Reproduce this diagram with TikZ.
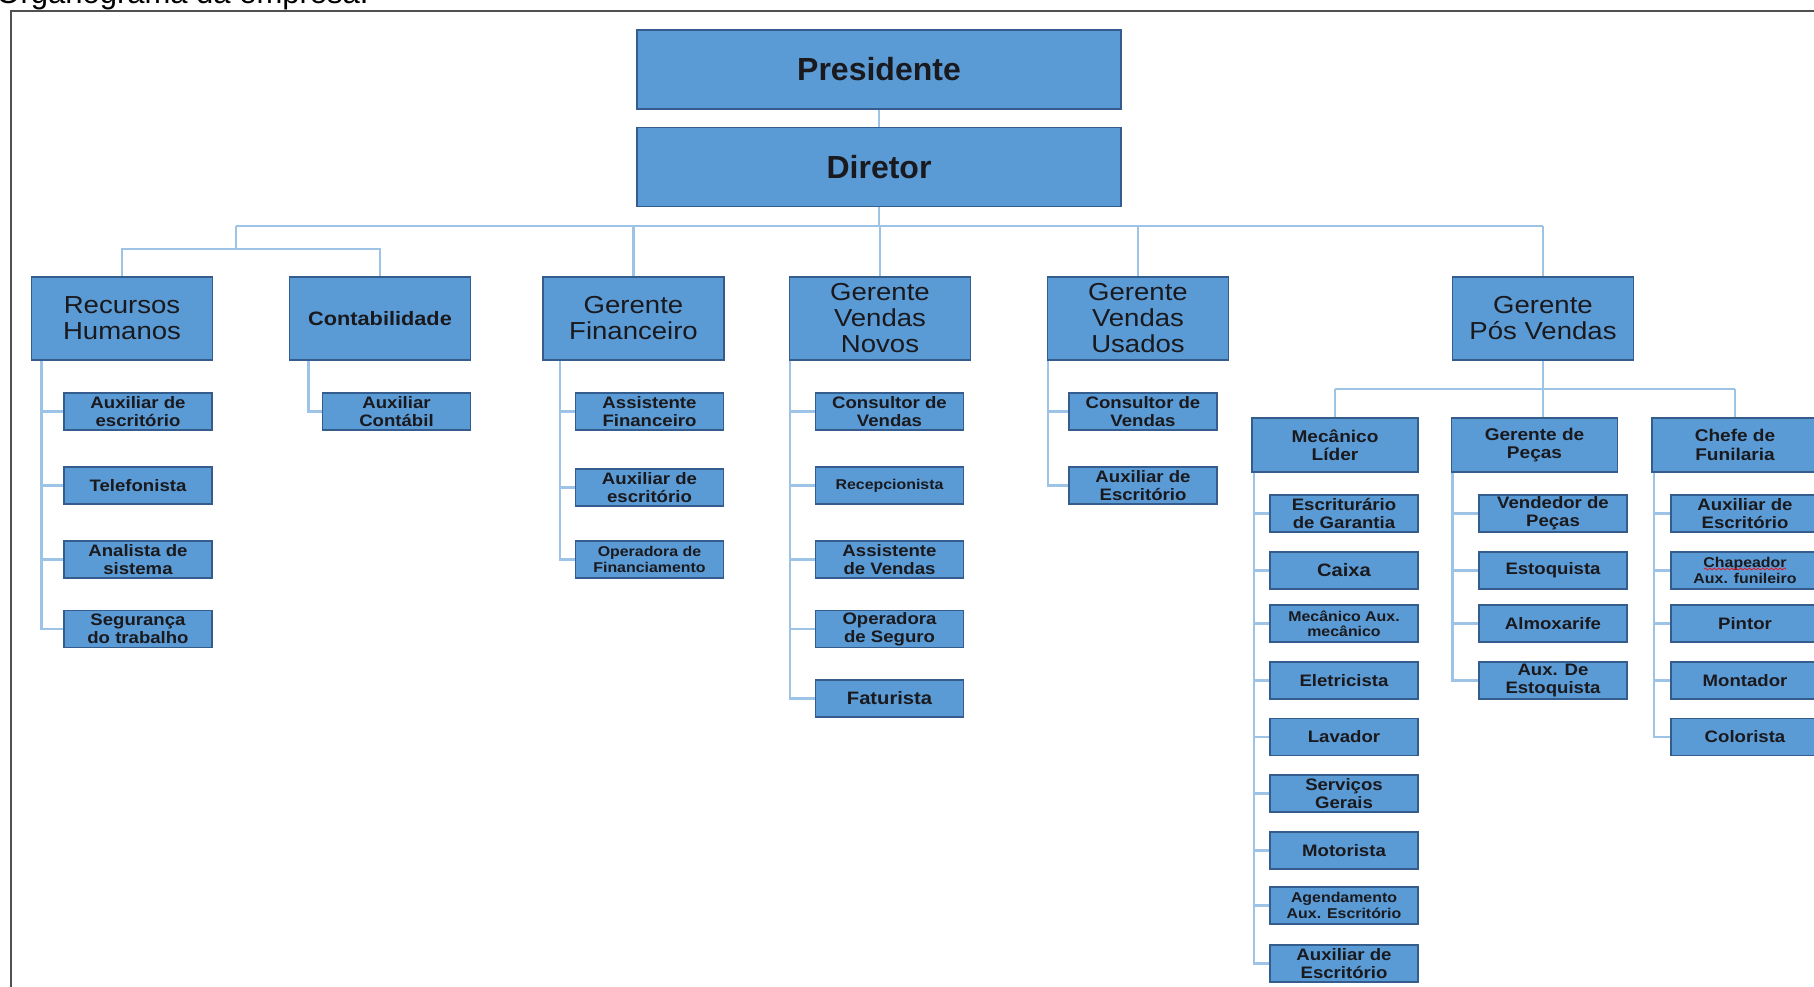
\documentclass[tikz,border=0pt]{standalone}
\usepackage{fontspec}
\setmainfont{Liberation Sans}
\newfontfamily\wf[FakeStretch=1.12]{Liberation Sans}
\usetikzlibrary{calc,decorations.pathmorphing}
\definecolor{boxfill}{RGB}{91,155,213}
\definecolor{boxline}{RGB}{52,92,140}
\definecolor{conncol}{RGB}{157,195,230}
\definecolor{framecol}{RGB}{80,80,80}
\definecolor{txt}{RGB}{25,25,30}
\begin{document}
\begin{tikzpicture}[x=0.5pt,y=-0.5pt,
  box/.style={draw=boxline,fill=boxfill,line width=0.9pt,inner sep=0pt,align=center,text=txt},
  topbox/.style={box,minimum width=242pt,minimum height=39.5pt,font=\fontsize{16}{18}\selectfont\bfseries},
  mgr/.style={box,minimum width=90.5pt,minimum height=41.5pt,font=\wf\fontsize{12.3}{13}\selectfont},
  mgrb/.style={box,minimum width=90.5pt,minimum height=41.5pt,font=\wf\fontsize{9.7}{11}\selectfont\bfseries},
  sub/.style={box,minimum width=83pt,minimum height=27pt,font=\wf\fontsize{8.5}{9.2}\selectfont\bfseries},
  kid/.style={box,minimum width=74pt,minimum height=18.5pt,font=\wf\fontsize{8.3}{9}\selectfont\bfseries},
  kids/.style={kid,font=\wf\fontsize{7.1}{7.6}\selectfont\bfseries},
  kidl/.style={kid,font=\wf\fontsize{9}{10}\selectfont\bfseries},
  conn/.style={draw=conncol,line width=1.2pt}]
\useasboundingbox (0,0) rectangle (1814,986);
\node[anchor=base west,inner sep=0pt,font=\fontsize{15.5}{18}\selectfont] (title) at (-4,3) {Organograma da empresa.};
\draw[framecol,line width=1pt] (11,11) rectangle (1840,1010);

% top
\node[topbox] (pres) at (879,69.5) {Presidente};
\node[topbox] (dir) at (879,167) {Diretor};

% level 2
\node[mgr] (rh) at (122,318.5) {Recursos\\Humanos};
\node[mgrb] (cont) at (380,318.5) {Contabilidade};
\node[mgr] (gf) at (633.5,318.5) {Gerente\\Financeiro};
\node[mgr] (gvn) at (880,318.5) {Gerente\\Vendas\\Novos};
\node[mgr] (gvu) at (1138,318.5) {Gerente\\Vendas\\Usados};
\node[mgr] (gpv) at (1543,318.5) {Gerente\\Pós Vendas};

% RH children
\node[kid] (rh1) at (138,411.5) {Auxiliar de\\escritório};
\node[kid] (rh2) at (138,485.5) {Telefonista};
\node[kid] (rh3) at (138,559.5) {Analista de\\sistema};
\node[kid] (rh4) at (138,629) {Segurança\\do trabalho};

% Contabilidade child
\node[kid] (ct1) at (396.5,411.5) {Auxiliar\\Contábil};

% GF children
\node[kid] (gf1) at (649.5,411.5) {Assistente\\Financeiro};
\node[kid] (gf2) at (649.5,487.5) {Auxiliar de\\escritório};
\node[kids] (gf3) at (649.5,559.5) {Operadora de\\Financiamento};

% GVN children
\node[kid] (gn1) at (889.5,411.5) {Consultor de\\Vendas};
\node[kids] (gn2) at (889.5,485.5) {Recepcionista};
\node[kid] (gn3) at (889.5,559.5) {Assistente\\de Vendas};
\node[kid] (gn4) at (889.5,629) {Operadora\\de Seguro};
\node[kidl] (gn5) at (889.5,698.5) {Faturista};

% GVU children
\node[kid] (gu1) at (1143,411.5) {Consultor de\\Vendas};
\node[kid] (gu2) at (1143,485.5) {Auxiliar de\\Escritório};

% level 3
\node[sub] (mec) at (1335,445) {Mecânico\\Líder};
\node[sub] (gp) at (1534.5,445) {Gerente de\\Peças};
\node[sub] (chefe) at (1735,445) {Chefe de\\Funilaria};

% Mecanico children
\node[kid] (m1) at (1344,513.5) {Escriturário\\de Garantia};
\node[kidl] (m2) at (1344,570.5) {Caixa};
\node[kids] (m3) at (1344,623.5) {Mecânico Aux.\\mecânico};
\node[kid] (m4) at (1344,680.5) {Eletricista};
\node[kid] (m5) at (1344,737) {Lavador};
\node[kid] (m6) at (1344,793.5) {Serviços\\Gerais};
\node[kid] (m7) at (1344,850.5) {Motorista};
\node[kids] (m8) at (1344,905.5) {Agendamento\\Aux. Escritório};
\node[kid] (m9) at (1344,963.5) {Auxiliar de\\Escritório};

% Gerente de Pecas children
\node[kid] (p1) at (1553,513.5) {Vendedor de\\Peças};
\node[kid] (p2) at (1553,570.5) {Estoquista};
\node[kid] (p3) at (1553,623.5) {Almoxarife};
\node[kid] (p4) at (1553,680.5) {Aux. De\\Estoquista};

% Chefe de Funilaria children
\node[kid] (f1) at (1745,513.5) {Auxiliar de\\Escritório};
\node[kids] (f2) at (1745,570.5) {Chapeador\\Aux. funileiro};
\node[kid] (f3) at (1745,623.5) {Pintor};
\node[kid] (f4) at (1745,680.5) {Montador};
\node[kid] (f5) at (1745,737) {Colorista};
\draw[red,line width=0.3pt,decorate,decoration={snake,amplitude=0.5pt,segment length=2.2pt}] (1704,569) -- (1786,569);

% connectors top
\coordinate (bus) at (0,226);
\coordinate (rcj) at (236,249);
\draw[conn] (pres.south) -- (dir.north);
\draw[conn] (dir.south) -- (dir.south |- bus);
\draw[conn] (rcj |- bus) -- (gpv.north |- bus);
\draw[conn] (rcj) -- (rcj |- bus);
\draw[conn] (rh.north) |- (rcj);
\draw[conn] (cont.north) |- (rcj);
\foreach \n in {gf,gvn,gvu,gpv}{\draw[conn] (\n.north) -- (\n.north |- bus);}

% level 3 bus
\coordinate (sb) at (0,389);
\draw[conn] (gpv.south) -- (gpv.south |- gp.north);
\draw[conn] (mec.north |- sb) -- (chefe.north |- sb);
\draw[conn] (mec.north) -- (mec.north |- sb);
\draw[conn] (chefe.north) -- (chefe.north |- sb);

% spines
\foreach \c in {rh1,rh2,rh3,rh4}{\draw[conn] ([xshift=5.5pt]rh.south west) |- (\c.west);}
\draw[conn] ([xshift=10pt]cont.south west) |- (ct1.west);
\foreach \c in {gf1,gf2,gf3}{\draw[conn] ([xshift=9pt]gf.south west) |- (\c.west);}
\foreach \c in {gn1,gn2,gn3,gn4,gn5}{\draw[conn] ([xshift=0.8pt]gvn.south west) |- (\c.west);}
\foreach \c in {gu1,gu2}{\draw[conn] ([xshift=0.8pt]gvu.south west) |- (\c.west);}
\foreach \c in {m1,m2,m3,m4,m5,m6,m7,m8,m9}{\draw[conn] ([xshift=1.5pt]mec.south west) |- (\c.west);}
\foreach \c in {p1,p2,p3,p4}{\draw[conn] ([xshift=1pt]gp.south west) |- (\c.west);}
\foreach \c in {f1,f2,f3,f4,f5}{\draw[conn] ([xshift=1.5pt]chefe.south west) |- (\c.west);}
\end{tikzpicture}
\end{document}
